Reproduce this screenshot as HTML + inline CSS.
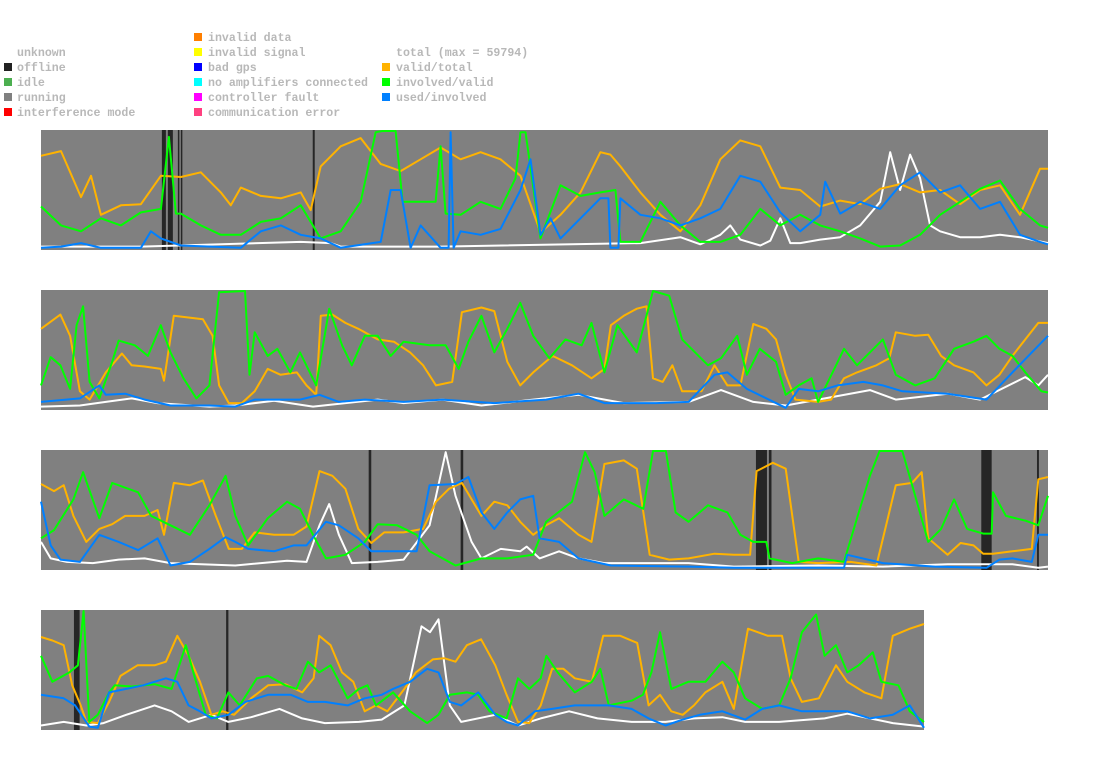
<!DOCTYPE html>
<html><head><meta charset="utf-8"><style>
html,body{margin:0;padding:0;background:#fff;width:1095px;height:764px;overflow:hidden}
svg{display:block}
text{font-family:"Liberation Mono",monospace;font-weight:bold;font-size:11.6px;fill:#b8b8b8}
</style></head><body>
<svg id="chart" width="1095" height="764" xmlns="http://www.w3.org/2000/svg">
<g>
 <text x="17" y="56">unknown</text>
 <rect x="4" y="63" width="8" height="8" fill="#222"/>
 <text x="17" y="71">offline</text>
 <rect x="4" y="78" width="8" height="8" fill="#4caf50"/>
 <text x="17" y="86">idle</text>
 <rect x="4" y="93" width="8" height="8" fill="#808080"/>
 <text x="17" y="101">running</text>
 <rect x="4" y="108" width="8" height="8" fill="#f00"/>
 <text x="17" y="116">interference mode</text>
 <rect x="194" y="33" width="8" height="8" fill="#ff7f00"/>
 <text x="208" y="41">invalid data</text>
 <rect x="194" y="48" width="8" height="8" fill="#ff0"/>
 <text x="208" y="56">invalid signal</text>
 <rect x="194" y="63" width="8" height="8" fill="#00f"/>
 <text x="208" y="71">bad gps</text>
 <rect x="194" y="78" width="8" height="8" fill="#0ff"/>
 <text x="208" y="86">no amplifiers connected</text>
 <rect x="194" y="93" width="8" height="8" fill="#f0f"/>
 <text x="208" y="101">controller fault</text>
 <rect x="194" y="108" width="8" height="8" fill="#ff4080"/>
 <text x="208" y="116">communication error</text>
 <text x="396" y="56">total (max = 59794)</text>
 <rect x="382" y="63" width="8" height="8" fill="#ffb300"/>
 <text x="396" y="71">valid/total</text>
 <rect x="382" y="78" width="8" height="8" fill="#00ff00"/>
 <text x="396" y="86">involved/valid</text>
 <rect x="382" y="93" width="8" height="8" fill="#0080ff"/>
 <text x="396" y="101">used/involved</text>
</g>
<g id="panels"></g>
</svg>
<script>
// ---- panel 1 (time domain 0..1008) ----
const p1Offline = [[121,125],[127,132],[137,138],[140,141],[272,274]];
const p1Valid = [[0,.79],[20,.83],[40,.44],[50,.62],[60,.29],[80,.37],[100,.38],[120,.62],[140,.61],[160,.65],[180,.48],[190,.37],[200,.52],[220,.45],[240,.43],[260,.48],[270,.33],[280,.70],[300,.87],[320,.94],[340,.72],[360,.66],[380,.76],[400,.86],[420,.76],[440,.82],[460,.76],[480,.62],[500,.14],[520,.29],[540,.48],[560,.82],[570,.80],[580,.70],[600,.48],[620,.29],[640,.15],[660,.37],[680,.76],[700,.92],[720,.87],[740,.52],[760,.50],[780,.36],[800,.41],[820,.38],[840,.51],[860,.55],[880,.48],[900,.50],[920,.38],[940,.50],[960,.54],[980,.29],[1000,.68],[1008,.68]];
const p1Involved = [[0,.36],[20,.2],[40,.15],[60,.26],[80,.2],[100,.31],[120,.34],[128,.95],[135,.3],[140,.30],[160,.2],[180,.12],[200,.12],[220,.23],[240,.26],[260,.37],[280,.09],[300,.15],[320,.40],[335,.99],[342,1],[355,1],[362,.4],[380,.4],[395,.4],[400,.87],[405,.3],[420,.29],[440,.40],[460,.34],[475,.6],[480,.99],[485,.99],[500,.09],[520,.54],[540,.45],[560,.48],[575,.5],[580,.06],[600,.06],[620,.40],[640,.2],[660,.06],[680,.06],[700,.12],[720,.34],[740,.2],[760,.29],[780,.2],[800,.15],[820,.09],[840,.02],[860,.03],[880,.12],[900,.29],[920,.40],[940,.51],[960,.58],[980,.34],[1000,.2],[1008,.18]];
const p1Used = [[0,.01],[20,.02],[40,.05],[60,.01],[100,.01],[110,.15],[120,.09],[140,.03],[200,.01],[220,.15],[240,.2],[260,.12],[280,.09],[300,.01],[340,.06],[350,.5],[360,.5],[370,.01],[380,.2],[400,.01],[408,.01],[410,.99],[413,.01],[420,.15],[440,.12],[460,.17],[480,.5],[490,.76],[500,.12],[510,.26],[520,.09],[540,.26],[560,.43],[568,.43],[570,.01],[578,.01],[580,.43],[600,.29],[620,.26],[640,.2],[660,.26],[680,.34],[700,.62],[720,.57],[740,.31],[760,.15],[780,.29],[785,.57],[800,.3],[820,.40],[840,.34],[860,.54],[880,.65],[900,.48],[920,.54],[940,.34],[960,.40],[980,.12],[1000,.06],[1008,.04]];
const p1Total = [[0,.02],[100,.02],[260,.06],[290,.05],[300,.02],[400,.02],[600,.05],[640,.1],[660,.04],[680,.12],[690,.2],[700,.08],[720,.03],[730,.07],[740,.26],[750,.05],[760,.05],[780,.08],[800,.1],[820,.2],[840,.4],[850,.82],[860,.5],[870,.8],[880,.6],[890,.2],[900,.15],[920,.1],[940,.1],[960,.12],[980,.1],[1008,.05]];
// ---- panel 2 (time domain 0..1555) ----
const p2Offline = [];
const p2Valid = [[0,.68],[30,.80],[45,.62],[60,.15],[75,.08],[100,.31],[125,.47],[140,.37],[160,.36],[185,.34],[190,.24],[205,.79],[250,.76],[265,.62],[275,.2],[290,.05],[310,.05],[330,.15],[350,.34],[370,.29],[395,.31],[410,.2],[425,.12],[432,.79],[450,.80],[470,.73],[490,.68],[520,.59],[545,.57],[570,.48],[590,.37],[610,.2],[635,.23],[650,.82],[680,.86],[700,.83],[720,.40],[740,.2],[760,.31],[790,.45],[820,.37],[850,.26],[870,.34],[880,.71],[900,.79],[920,.85],[935,.87],[945,.26],[960,.23],[975,.37],[990,.15],[1020,.15],[1040,.37],[1060,.2],[1080,.2],[1100,.72],[1120,.68],[1135,.59],[1150,.29],[1165,.08],[1200,.06],[1220,.08],[1240,.26],[1260,.31],[1290,.37],[1310,.43],[1320,.65],[1350,.62],[1370,.63],[1390,.45],[1410,.37],[1440,.31],[1460,.2],[1480,.29],[1500,.45],[1520,.59],[1540,.73],[1555,.73]];
const p2Involved = [[0,.2],[15,.44],[30,.37],[45,.17],[55,.71],[65,.87],[75,.23],[90,.09],[110,.4],[120,.58],[145,.54],[165,.45],[185,.71],[200,.48],[220,.26],[240,.09],[260,.2],[275,.99],[315,1],[322,.29],[330,.65],[350,.45],[365,.51],[385,.31],[400,.48],[425,.2],[445,.85],[465,.54],[480,.37],[500,.62],[520,.62],[540,.45],[560,.57],[600,.54],[625,.54],[645,.34],[660,.57],[680,.79],[700,.48],[720,.68],[740,.90],[760,.62],[785,.43],[810,.59],[835,.54],[850,.73],[870,.31],[890,.71],[920,.48],[945,1],[970,.96],[990,.59],[1010,.48],[1030,.37],[1050,.43],[1075,.62],[1090,.29],[1110,.51],[1135,.40],[1150,.12],[1170,.2],[1190,.26],[1200,.06],[1225,.34],[1240,.51],[1260,.37],[1280,.48],[1300,.59],[1320,.29],[1350,.2],[1380,.26],[1410,.51],[1440,.57],[1460,.62],[1480,.51],[1500,.45],[1520,.31],[1545,.15],[1555,.14]];
const p2Used = [[0,.06],[60,.09],[90,.2],[100,.12],[130,.13],[160,.08],[200,.03],[260,.03],[300,.02],[330,.08],[400,.08],[430,.12],[460,.06],[500,.08],[560,.06],[620,.08],[700,.05],[780,.08],[830,.13],[870,.05],[950,.05],[1000,.06],[1040,.29],[1060,.31],[1090,.17],[1150,.01],[1170,.17],[1200,.15],[1230,.2],[1270,.23],[1300,.2],[1330,.15],[1400,.13],[1460,.08],[1500,.31],[1530,.48],[1555,.62]];
const p2Total = [[0,.02],[60,.03],[100,.06],[140,.09],[180,.05],[260,.02],[300,.03],[360,.07],[420,.02],[520,.08],[560,.05],[620,.08],[680,.03],[760,.08],[830,.12],[900,.05],[1000,.06],[1050,.16],[1100,.06],[1150,.03],[1200,.08],[1280,.16],[1320,.08],[1400,.13],[1450,.08],[1520,.27],[1540,.2],[1555,.29]];
// ---- panel 3 (time domain 0..1555) ----
const p3Offline = [[506,510],[648,652],[1104,1121],[1124,1128],[1452,1468],[1538,1541]];
const p3Valid = [[0,.72],[20,.66],[35,.71],[50,.45],[70,.23],[90,.34],[110,.38],[130,.45],[160,.45],[180,.5],[190,.29],[205,.73],[230,.71],[250,.75],[270,.45],[290,.17],[310,.17],[330,.31],[360,.29],[390,.29],[410,.36],[430,.83],[450,.79],[470,.68],[490,.34],[510,.22],[530,.31],[560,.31],[590,.34],[610,.57],[630,.68],[650,.73],[680,.45],[700,.57],[720,.54],[740,.40],[760,.29],[780,.37],[800,.43],[830,.29],[850,.23],[870,.89],[900,.92],[920,.85],[940,.12],[970,.08],[1000,.09],[1040,.13],[1070,.12],[1095,.12],[1105,.83],[1130,.90],[1150,.85],[1170,.06],[1200,.05],[1250,.06],[1290,.03],[1320,.71],[1345,.73],[1360,.82],[1370,.26],[1400,.12],[1420,.22],[1440,.2],[1455,.13],[1470,.13],[1500,.15],[1530,.17],[1540,.76],[1560,.78]];
const p3Involved = [[0,.26],[20,.33],[50,.59],[65,.82],[90,.43],[110,.73],[150,.65],[170,.45],[200,.37],[230,.29],[260,.54],[285,.79],[300,.45],[320,.2],[350,.43],[380,.57],[400,.51],[420,.29],[440,.09],[470,.12],[500,.23],[520,.38],[550,.37],[580,.29],[600,.15],[640,.03],[680,.09],[720,.09],[760,.12],[780,.40],[820,.57],[840,.99],[855,.82],[870,.45],[900,.59],[930,.51],[945,1],[965,1],[980,.48],[1000,.40],[1030,.54],[1060,.48],[1080,.29],[1100,.23],[1120,.23],[1125,.09],[1160,.05],[1200,.09],[1240,.06],[1260,.43],[1280,.79],[1295,1],[1330,1],[1350,.62],[1370,.23],[1390,.34],[1410,.59],[1430,.34],[1455,.30],[1468,.30],[1470,.65],[1490,.45],[1520,.41],[1540,.37],[1560,.62]];
const p3Used = [[0,.57],[15,.2],[30,.08],[60,.06],[90,.29],[120,.23],[150,.16],[180,.26],[200,.03],[230,.06],[260,.17],[285,.27],[300,.23],[320,.17],[360,.15],[390,.2],[410,.2],[440,.40],[460,.37],[490,.26],[510,.15],[580,.15],[600,.71],[640,.72],[660,.78],[680,.48],[700,.34],[720,.48],[740,.59],[760,.62],[770,.26],[800,.23],[830,.09],[880,.03],[1000,.02],[1070,.01],[1240,.01],[1245,.12],[1300,.05],[1380,.02],[1460,.01],[1480,.08],[1500,.09],[1530,.06],[1540,.29],[1560,.29]];
const p3Total = [[0,.23],[15,.09],[40,.06],[80,.05],[120,.08],[160,.09],[200,.05],[300,.03],[380,.07],[410,.06],[430,.37],[445,.55],[460,.29],[480,.05],[520,.06],[560,.08],[600,.37],[625,.99],[640,.62],[665,.23],[680,.09],[710,.17],[740,.15],[750,.19],[770,.09],[800,.15],[830,.09],[870,.05],[1000,.05],[1070,.02],[1200,.03],[1300,.02],[1400,.04],[1500,.04],[1540,.01],[1560,.02]];
// ---- panel 4 (time domain 0..1555) ----
const p4Offline = [[58,68],[326,330]];
const p4Valid = [[0,.78],[20,.75],[40,.71],[55,.37],[70,.2],[80,.06],[100,.05],[120,.23],[140,.45],[170,.54],[200,.54],[220,.57],[240,.79],[260,.62],[280,.40],[300,.12],[320,.15],[340,.12],[370,.26],[400,.37],[430,.38],[460,.31],[480,.43],[490,.79],[510,.71],[530,.48],[550,.40],[570,.15],[590,.2],[610,.15],[640,.34],[660,.48],[690,.59],[710,.60],[730,.57],[750,.71],[775,.76],[800,.54],[820,.29],[840,.06],[860,.05],[880,.2],[900,.51],[920,.51],[940,.43],[970,.40],[990,.79],[1020,.79],[1050,.73],[1070,.2],[1090,.29],[1110,.15],[1130,.12],[1150,.2],[1170,.31],[1200,.40],[1220,.17],[1245,.85],[1280,.79],[1305,.79],[1320,.43],[1340,.23],[1370,.26],[1400,.54],[1420,.40],[1450,.31],[1480,.26],[1500,.79],[1530,.85],[1555,.89]];
const p4Involved = [[0,.62],[20,.40],[50,.48],[65,.54],[75,1],[85,.06],[100,.12],[120,.31],[130,.37],[160,.36],[200,.38],[230,.34],[255,.71],[270,.45],[290,.12],[310,.09],[330,.31],[350,.2],[380,.43],[400,.45],[430,.37],[450,.34],[470,.57],[490,.48],[510,.54],[540,.26],[560,.34],[575,.37],[590,.2],[620,.31],[650,.15],[680,.05],[700,.12],[720,.29],[750,.31],[770,.29],[790,.15],[820,.09],[840,.43],[860,.34],[880,.43],[890,.62],[910,.48],[940,.31],[970,.40],[985,.51],[1000,.2],[1040,.24],[1060,.29],[1075,.48],[1090,.82],[1110,.34],[1140,.40],[1170,.40],[1200,.57],[1220,.48],[1240,.26],[1270,.17],[1300,.2],[1320,.43],[1340,.82],[1365,.97],[1380,.62],[1400,.71],[1420,.48],[1440,.54],[1465,.65],[1480,.40],[1510,.37],[1530,.15],[1555,.06]];
const p4Used = [[0,.29],[40,.26],[60,.2],[85,.02],[100,.01],[120,.31],[150,.34],[180,.37],[220,.43],[240,.40],[260,.2],[280,.15],[300,.09],[330,.12],[360,.23],[400,.29],[440,.29],[470,.23],[500,.23],[540,.2],[570,.26],[600,.29],[620,.34],[650,.40],[680,.51],[700,.48],[720,.23],[740,.2],[770,.31],[800,.12],[820,.06],[840,.03],[870,.15],[900,.17],[940,.2],[1000,.2],[1040,.17],[1070,.09],[1100,.03],[1130,.08],[1160,.12],[1200,.15],[1240,.08],[1270,.17],[1300,.2],[1340,.15],[1420,.15],[1460,.09],[1500,.12],[1530,.2],[1555,.01]];
const p4Total = [[0,.03],[40,.06],[80,.03],[110,.05],[150,.12],[200,.2],[230,.15],[260,.06],[300,.12],[330,.06],[370,.10],[420,.17],[460,.09],[500,.05],[560,.06],[600,.08],[640,.2],[670,.87],[685,.82],[700,.93],[720,.2],[740,.06],[800,.12],[840,.03],[880,.09],[930,.15],[980,.09],[1040,.06],[1100,.06],[1150,.09],[1200,.10],[1240,.06],[1300,.06],[1380,.09],[1420,.13],[1460,.09],[1500,.05],[1555,.02]];

const panels = [
 {name:'panel-1', x:41, y:130, w:1007, h:120, dom:1008, off:p1Offline, series:[p1Total,p1Valid,p1Involved,p1Used]},
 {name:'panel-2', x:41, y:290, w:1007, h:120, dom:1555, off:p2Offline, series:[p2Total,p2Valid,p2Involved,p2Used]},
 {name:'panel-3', x:41, y:450, w:1007, h:120, dom:1555, off:p3Offline, series:[p3Total,p3Valid,p3Involved,p3Used]},
 {name:'panel-4', x:41, y:610, w:883, h:120, dom:1555, off:p4Offline, series:[p4Total,p4Valid,p4Involved,p4Used]}
];
const seriesNames = ['total-line','valid-total-line','involved-valid-line','used-involved-line'];
const seriesColors = ['#ffffff','#ffb300','#00ff00','#0080ff'];
const NS = 'http://www.w3.org/2000/svg';
const root = document.getElementById('panels');
panels.forEach(p => {
  const xs = t => p.x + Math.min(t, p.dom) / p.dom * p.w;
  const ys = v => p.y + p.h - 1 - v * (p.h - 2);
  const g = document.createElementNS(NS,'g');
  
  
  const bg = document.createElementNS(NS,'rect');
  bg.setAttribute('x',p.x); bg.setAttribute('y',p.y); bg.setAttribute('width',p.w); bg.setAttribute('height',p.h);
  bg.setAttribute('fill','#808080');
  
  
  g.appendChild(bg);
  p.off.forEach(o => {
    const r = document.createElementNS(NS,'rect');
    r.setAttribute('x', xs(o[0])); r.setAttribute('y', p.y);
    r.setAttribute('width', Math.max(1.5, xs(o[1]) - xs(o[0]))); r.setAttribute('height', p.h);
    r.setAttribute('fill', '#262626');
    
    
    g.appendChild(r);
  });
  p.series.forEach((s,i) => {
    const pl = document.createElementNS(NS,'polyline');
    pl.setAttribute('points', s.map(d => xs(d[0]).toFixed(1)+','+ys(d[1]).toFixed(1)).join(' '));
    pl.setAttribute('fill','none');
    pl.setAttribute('stroke', seriesColors[i]);
    pl.setAttribute('stroke-width','2');
    pl.setAttribute('stroke-linejoin','round');
    
    
    g.appendChild(pl);
  });
  root.appendChild(g);
});
</script>
</body></html>
